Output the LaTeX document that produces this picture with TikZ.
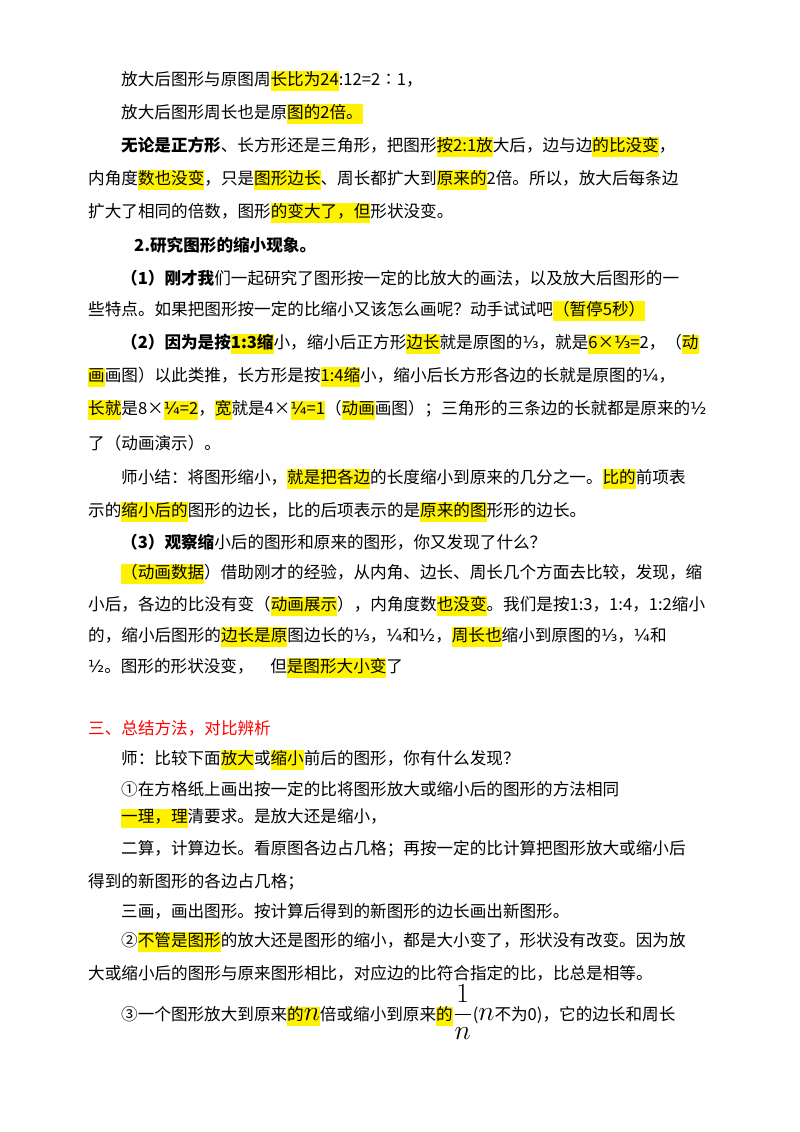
\documentclass[tikz,border=0pt]{standalone}
\usepackage{fontspec}
\usepackage{graphicx}
\setmainfont{Noto Sans CJK SC}
\newfontfamily\djf{DejaVu Sans}
\newcommand\hl[1]{{\setlength\fboxsep{0pt}\colorbox{yellow}{\strut #1}}}
\newcommand\fr[1]{{\djf #1}}
\newcommand\mth[1]{\scalebox{1.6}{#1}}
\begin{document}
\begin{tikzpicture}[x=1pt,y=1pt,line/.style={anchor=west,inner sep=0pt,font=\fontsize{16.6pt}{19pt}\selectfont}]
\useasboundingbox[fill=white] (0,0) rectangle (800,-1132);
\def\a{121}\def\b{88}
\node[line] (l1) at (\a,-81) {放大后图形与原图周\hl{长比为24}:12=2∶1，};
\node[line] (l2) at (\a,-114) {放大后图形周长也是原\hl{图的2倍。}};
\node[line] (l3) at (\a,-147) {\textbf{无论是正方形}、长方形还是三角形，把图形\hl{按2:1放}大后，边与边\hl{的比没变}，};
\node[line] (l4) at (\b,-180) {内角度\hl{数也没变}，只是\hl{图形边长}、周长都扩大到\hl{原来的}2倍。所以，放大后每条边};
\node[line] (l5) at (\b,-213) {扩大了相同的倍数，图形\hl{的变大了，但}形状没变。};
\node[line] (l6) at (134,-245) {\textbf{2.研究图形的缩小现象。}};
\node[line] (l7) at (\a,-278) {\textbf{（1）刚才我}们一起研究了图形按一定的比放大的画法，以及放大后图形的一};
\node[line] (l8) at (\b,-311) {些特点。如果把图形按一定的比缩小又该怎么画呢？动手试试吧\hl{（暂停5秒）}};
\node[line] (l9) at (\a,-344) {\textbf{（2）因为是按\hl{1:3缩}}小，缩小后正方形\hl{边长}就是原图的\fr{⅓}，就是\hl{6×\fr{⅓}=}2，（\hl{动}};
\node[line] (l10) at (\b,-377) {\hl{画}画图）以此类推，长方形是按\hl{1:4缩}小，缩小后长方形各边的长就是原图的\fr{¼}，};
\node[line] (l11) at (\b,-410) {\hl{长就}是8×\hl{\fr{¼}=2}，\hl{宽}就是4×\hl{\fr{¼}=1}（\hl{动画}画图）；三角形的三条边的长就都是原来的\fr{½}};
\node[line] (l12) at (\b,-443) {了（动画演示）。};
\node[line] (l13) at (\a,-479) {师小结：将图形缩小，\hl{就是把各边}的长度缩小到原来的几分之一。\hl{比的}前项表};
\node[line] (l14) at (\b,-512) {示的\hl{缩小后的}图形的边长，比的后项表示的是\hl{原来的图}形形的边长。};
\node[line] (l15) at (\a,-542) {\textbf{（3）观察缩}小后的图形和原来的图形，你又发现了什么？};
\node[line] (l16) at (\a,-574) {\hl{（动画数据}）借助刚才的经验，从内角、边长、周长几个方面去比较，发现，缩};
\node[line] (l17) at (\b,-606) {小后，各边的比没有变（\hl{动画展示}），内角度数\hl{也没变}。我们是按1:3，1:4，1:2缩小};
\node[line] (l18) at (\b,-637) {的，缩小后图形的\hl{边长是原}图边长的\fr{⅓}，\fr{¼}和\fr{½}，\hl{周长也}缩小到原图的\fr{⅓}，\fr{¼}和};
\node[line] (l19) at (\b,-668) {\fr{½}。图形的形状没变，\quad 但\hl{是图形大小变}了};
\node[line,text=red] (h3) at (\b,-728) {三、总结方法，对比辨析};
\node[line] (m1) at (\a,-760) {师：比较下面\hl{放大}或\hl{缩小}前后的图形，你有什么发现？};
\node[line] (m2) at (\a,-789) {①在方格纸上画出按一定的比将图形放大或缩小后的图形的方法相同};
\node[line] (m3) at (\a,-818) {\hl{一理，理}清要求。是放大还是缩小，};
\node[line] (m4) at (\a,-849) {二算，计算边长。看原图各边占几格；再按一定的比计算把图形放大或缩小后};
\node[line] (m5) at (\b,-882) {得到的新图形的各边占几格；};
\node[line] (m6) at (\a,-911) {三画，画出图形。按计算后得到的新图形的边长画出新图形。};
\node[line] (m7) at (\a,-942) {②\hl{不管是图形}的放大还是图形的缩小，都是大小变了，形状没有改变。因为放};
\node[line] (m8) at (\b,-973) {大或缩小后的图形与原来图形相比，对应边的比符合指定的比，比总是相等。};
\node[line] (m9) at (\a,-1012) {③一个图形放大到原来\hl{的\mth{$n$}}倍或缩小到原来\hl{的}\mth{$\displaystyle\frac{1}{n}$}(\mth{$n$}不为0)，它的边长和周长};
\end{tikzpicture}
\end{document}
